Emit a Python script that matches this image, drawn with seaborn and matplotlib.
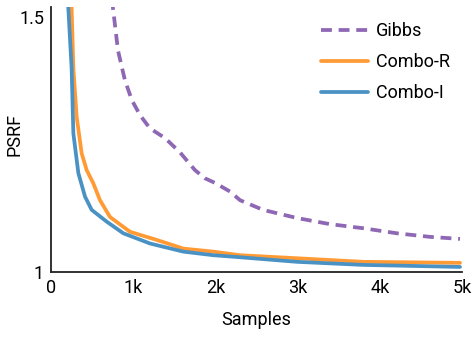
import pandas as pd
import seaborn as sns
import matplotlib.pyplot as plt
import matplotlib.ticker as mticker

# values (samples, PSRF)
gibbs_x = [740, 754, 815, 900, 985, 1083, 1204, 1387, 1569, 1752, 1873, 1995, 2178, 2300, 2580, 2993, 3394, 3796, 4209, 4611, 4976]
gibbs_y = [1.55, 1.518, 1.435, 1.376, 1.337, 1.308, 1.282, 1.263, 1.235, 1.200, 1.184, 1.175, 1.158, 1.141, 1.122, 1.106, 1.094, 1.086, 1.076, 1.069, 1.065]

combo_r_x = [240, 251, 272, 312, 373, 434, 515, 596, 718, 961, 1286, 1610, 1975, 2300, 2993, 3796, 4976]
combo_r_y = [1.60, 1.517, 1.400, 1.305, 1.233, 1.200, 1.174, 1.141, 1.108, 1.079, 1.063, 1.046, 1.040, 1.033, 1.027, 1.020, 1.018]

combo_i_x = [200, 211, 251, 272, 333, 414, 495, 677, 880, 1204, 1610, 1975, 2300, 2993, 3796, 4976]
combo_i_y = [1.60, 1.517, 1.400, 1.272, 1.194, 1.148, 1.122, 1.099, 1.076, 1.056, 1.040, 1.033, 1.029, 1.020, 1.014, 1.010]

series_names = ["Gibbs", "Combo-R", "Combo-I"]
colors = {"Gibbs": "#8e67b5", "Combo-R": "#ff9a35", "Combo-I": "#4a92c4"}

frames = []
for name, xs, ys in [("Gibbs", gibbs_x, gibbs_y), ("Combo-R", combo_r_x, combo_r_y), ("Combo-I", combo_i_x, combo_i_y)]:
    frames.append(pd.DataFrame({"Samples": xs, "PSRF": ys, "method": name}))
df = pd.concat(frames, ignore_index=True)

sns.set_style("white")
plt.rcParams['font.family'] = ['Roboto', 'DejaVu Sans']
plt.rcParams['text.color'] = 'black'
plt.rcParams['axes.labelcolor'] = 'black'
plt.rcParams['xtick.labelcolor'] = 'black'
plt.rcParams['ytick.labelcolor'] = 'black'

fig = plt.figure(figsize=(4.74, 3.41), dpi=100)
ax = fig.add_axes([0.1076, 0.2023, 0.867, 0.7767])

sns.lineplot(data=df, x="Samples", y="PSRF", hue="method", hue_order=series_names,
             palette=colors, linewidth=2.7, ax=ax, legend=False, sort=False)
ax.lines[0].set_dashes((2.9, 1.8))

ax.set_xlim(0, 5000)
ax.set_ylim(1, 1.52)
ax.set_xticks([0, 1000, 2000, 3000, 4000, 5000])
ax.xaxis.set_major_formatter(mticker.FuncFormatter(lambda v, p: "0" if v == 0 else f"{v/1000:.0f}k"))
ax.set_yticks([1, 1.5])
ax.set_yticklabels(["1", "1.5"])

for s in ["top", "right"]:
    ax.spines[s].set_visible(False)
for s in ["left", "bottom"]:
    ax.spines[s].set_color("#222222")
    ax.spines[s].set_linewidth(1.3)
ax.tick_params(direction="in", length=4, width=1, color="#999999", labelsize=13, pad=5)

ax.set_xlabel("Samples", fontsize=13, labelpad=10)
ax.set_ylabel("PSRF", fontsize=13)
ax.yaxis.set_label_coords(-0.068, 0.52)

handles = ax.lines[:3]
ax.legend(handles, series_names, loc="upper right", frameon=False, fontsize=13,
          handlelength=2.6, handletextpad=0.45, bbox_to_anchor=(1.01, 1.005), labelspacing=0.72)

fig.savefig("out.png", dpi=100)
